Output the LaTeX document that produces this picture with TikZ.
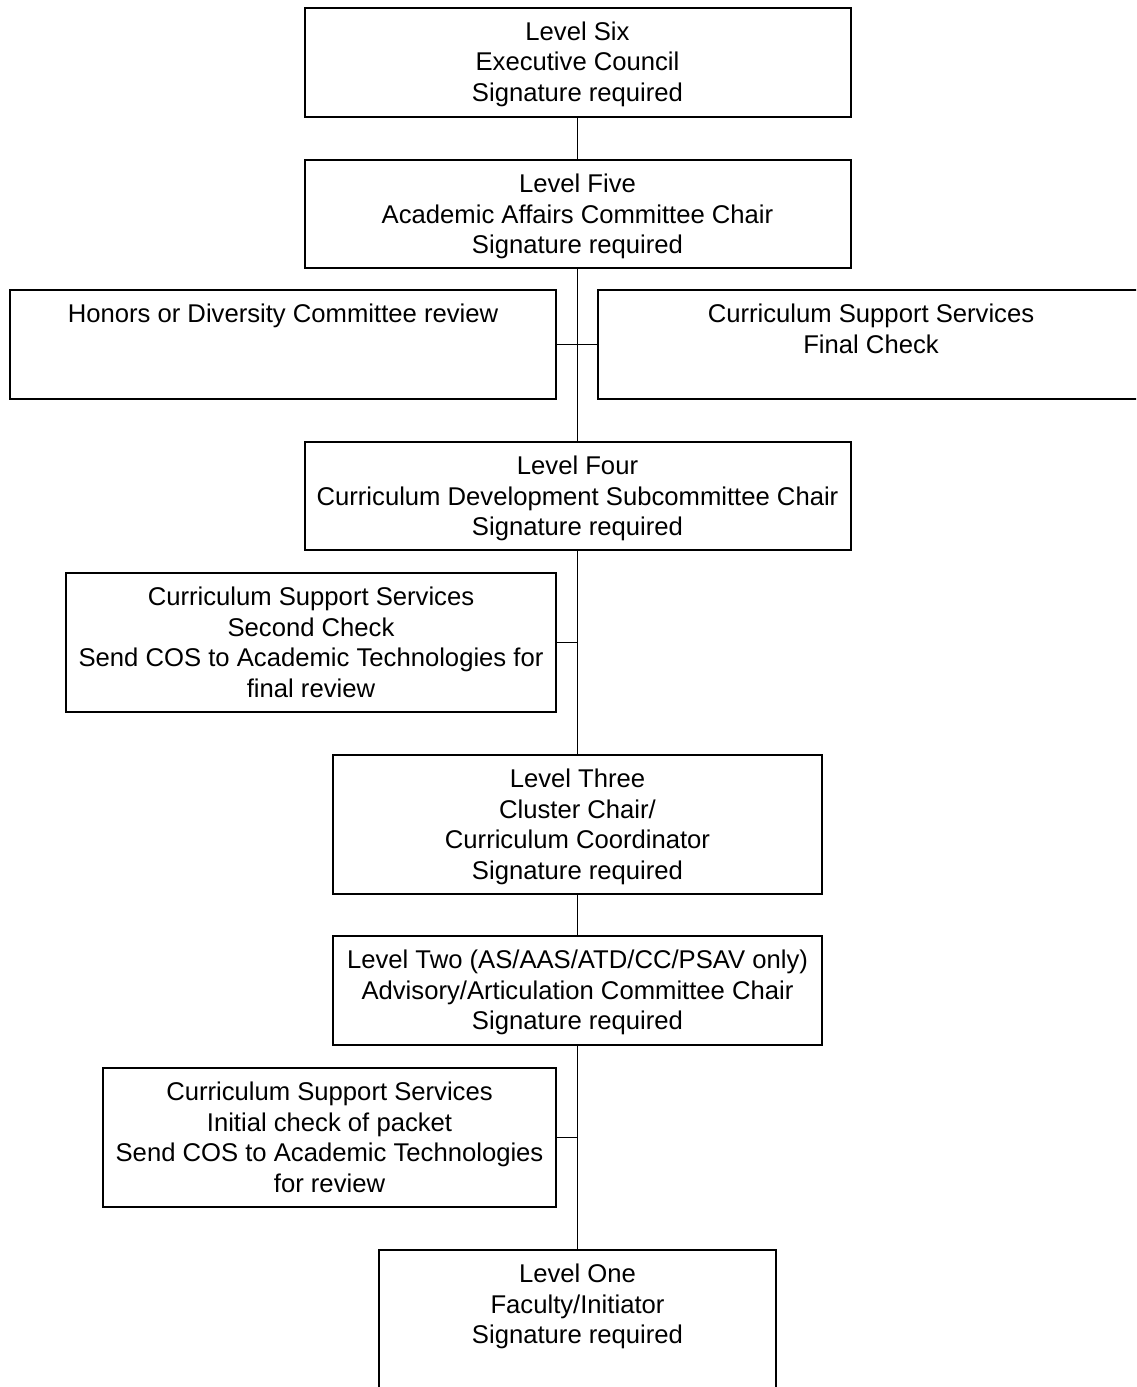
\documentclass[tikz,border=0pt]{standalone}
\usepackage{fontspec}
\setmainfont{Liberation Sans}
\begin{document}
\begin{tikzpicture}[x=1pt,y=-1pt,
  box/.style={draw=black, line width=2pt, inner sep=0pt, outer sep=0pt},
  txt/.style={anchor=north, inner sep=0pt, align=center, font=\fontsize{25.65}{30.6}\selectfont},
  link/.style={draw=black, line width=1.7pt}]
\clip (0,0) rectangle (1136,1387);
\fill[white] (0,0) rectangle (1136,1387);
% boxes
\node[box, minimum width=546pt, minimum height=109.5pt] (L6) at (577.5,62.25) {};
\node[box, minimum width=546pt, minimum height=108pt] (L5) at (577.5,214) {};
\node[box, minimum width=546pt, minimum height=109pt] (HON) at (283,344.5) {};
\node[box, minimum width=546pt, minimum height=109pt] (FC) at (871,344.5) {};
\node[box, minimum width=546pt, minimum height=108pt] (L4) at (577.5,496) {};
\node[box, minimum width=490pt, minimum height=139pt] (CS2) at (311,642.5) {};
\node[box, minimum width=489pt, minimum height=139pt] (L3) at (577.5,824.5) {};
\node[box, minimum width=489pt, minimum height=109pt] (L2) at (577.5,990.5) {};
\node[box, minimum width=453pt, minimum height=139pt] (CSI) at (329.5,1137.5) {};
\node[box, minimum width=397pt, minimum height=170pt] (L1) at (577.5,1335) {};
% texts
\node[txt] (T6) at ([yshift=-13.8pt]L6.north) {Level Six\\Executive Council\\Signature required};
\node[txt] (T5) at ([yshift=-13.8pt]L5.north) {Level Five\\Academic Affairs Committee Chair\\Signature required};
\node[txt] (THON) at ([yshift=-13.8pt]HON.north) {Honors or Diversity Committee review};
\node[txt] (TFC) at ([yshift=-13.8pt]FC.north) {Curriculum Support Services\\Final Check};
\node[txt] (T4) at ([yshift=-13.8pt]L4.north) {Level Four\\Curriculum Development Subcommittee Chair\\Signature required};
\node[txt] (TCS2) at ([yshift=-13.8pt]CS2.north) {Curriculum Support Services\\Second Check\\Send COS to Academic Technologies for\\final review};
\node[txt] (T3) at ([yshift=-13.8pt]L3.north) {Level Three\\Cluster Chair/\\Curriculum Coordinator\\Signature required};
\node[txt] (T2) at ([yshift=-13.8pt]L2.north) {Level Two (AS/AAS/ATD/CC/PSAV only)\\Advisory/Articulation Committee Chair\\Signature required};
\node[txt] (TCSI) at ([yshift=-13.8pt]CSI.north) {Curriculum Support Services\\Initial check of packet\\Send COS to Academic Technologies\\for review};
\node[txt] (T1) at ([yshift=-13.8pt]L1.north) {Level One\\Faculty/Initiator\\Signature required};
% connectors
\draw[link] (L6.south) -- (L5.north);
\draw[link] (L5.south) -- (L4.north);
\draw[link] (L4.south) -- (L3.north);
\draw[link] (L3.south) -- (L2.north);
\draw[link] (L2.south) -- (L1.north);
\draw[link] (HON.east) -- (FC.west);
\draw[link] (CS2.east) -- (CS2.east -| L4.south);
\draw[link] (CSI.east) -- (CSI.east -| L2.south);
\end{tikzpicture}
\end{document}
